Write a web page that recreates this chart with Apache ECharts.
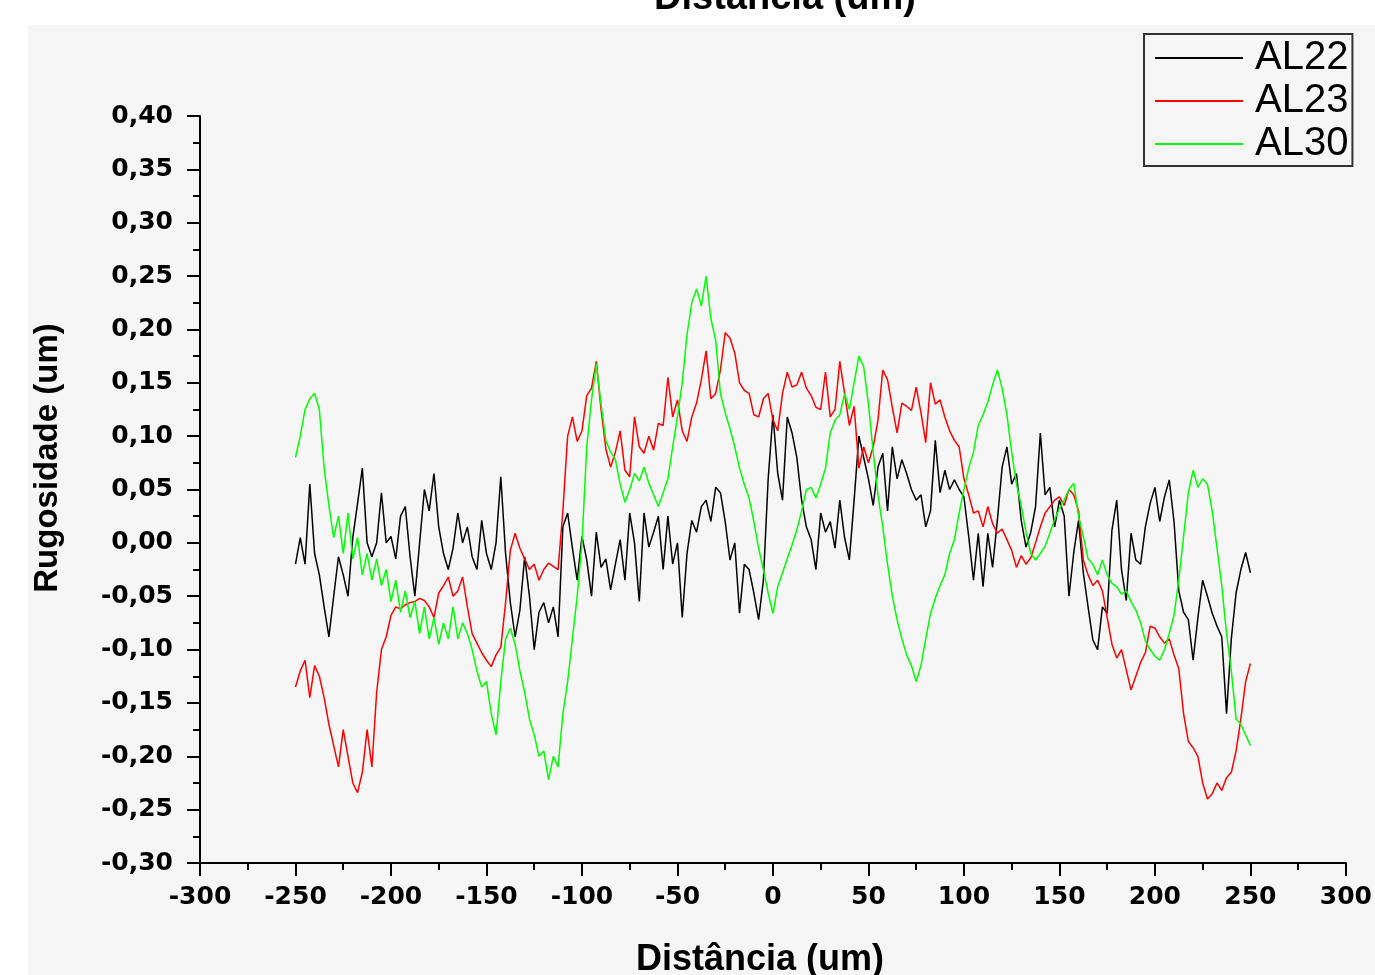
<!DOCTYPE html>
<html>
<head>
<meta charset="utf-8">
<script src="https://cdn.jsdelivr.net/npm/echarts@6/dist/echarts.min.js"></script>
<style>
html,body{margin:0;padding:0;background:#ffffff;}
#chart{width:1375px;height:975px;}
</style>
</head>
<body>
<div id="chart"></div>
<script>
// Sampling grid of the profile (um)
const xStart = -250;
const xStep = 2.5;

const seriesNames = ['AL22', 'AL23', 'AL30'];

const al22 = [
 -0.02, 0.005, -0.02, 0.055, -0.01, -0.03, -0.06, -0.088, -0.05, -0.013,
 -0.03, -0.05, 0.005, 0.037, 0.07, 0.0, -0.013, 0.0, 0.047, 0.0,
 0.006, -0.015, 0.025, 0.034, -0.013, -0.05, 0.0, 0.05, 0.03, 0.065,
 0.015, -0.01, -0.025, -0.005, 0.028, 0.0, 0.015, -0.013, -0.025, 0.021,
 -0.01, -0.025, 0.0, 0.062, -0.01, -0.056, -0.088, -0.063, -0.013, -0.05,
 -0.1, -0.065, -0.056, -0.075, -0.06, -0.088, 0.015, 0.028, -0.005, -0.035,
 0.006, -0.016, -0.05, 0.01, -0.023, -0.015, -0.044, -0.02, 0.003, -0.035,
 0.028, 0.0, -0.055, 0.028, -0.004, 0.01, 0.025, -0.025, 0.025, -0.02,
 0.0, -0.07, -0.01, 0.021, 0.01, 0.034, 0.04, 0.02, 0.052, 0.047,
 0.02, -0.016, 0.0, -0.066, -0.02, -0.025, -0.047, -0.072, -0.035, 0.06,
 0.12, 0.065, 0.04, 0.118, 0.103, 0.08, 0.04, 0.015, 0.003, -0.025,
 0.028, 0.01, 0.02, -0.005, 0.04, 0.005, -0.016, 0.04, 0.1, 0.08,
 0.06, 0.035, 0.071, 0.084, 0.03, 0.09, 0.06, 0.078, 0.065, 0.05,
 0.04, 0.045, 0.015, 0.03, 0.096, 0.047, 0.068, 0.05, 0.059, 0.05,
 0.043, 0.006, -0.035, 0.009, -0.041, 0.009, -0.023, 0.021, 0.071, 0.09,
 0.055, 0.065, 0.021, -0.004, 0.01, 0.034, 0.103, 0.045, 0.052, 0.015,
 0.04, 0.025, -0.05, -0.009, 0.021, -0.028, -0.06, -0.091, -0.1, -0.06,
 -0.066, 0.012, 0.04, -0.025, -0.054, 0.009, -0.016, -0.02, 0.015, 0.037,
 0.052, 0.02, 0.043, 0.059, 0.02, -0.045, -0.065, -0.072, -0.11, -0.07,
 -0.035, -0.05, -0.066, -0.078, -0.088, -0.16, -0.09, -0.047, -0.025, -0.009,
 -0.028
];

const al23 = [
 -0.135, -0.12, -0.11, -0.145, -0.115, -0.125, -0.145, -0.17, -0.19, -0.21,
 -0.175, -0.2, -0.225, -0.234, -0.215, -0.175, -0.21, -0.14, -0.1, -0.088,
 -0.068, -0.06, -0.062, -0.058, -0.056, -0.055, -0.052, -0.054, -0.06, -0.07,
 -0.047, -0.04, -0.032, -0.05, -0.045, -0.032, -0.06, -0.085, -0.094, -0.103,
 -0.11, -0.116, -0.105, -0.098, -0.056, -0.007, 0.009, -0.005, -0.015, -0.025,
 -0.02, -0.035, -0.025, -0.019, -0.022, -0.025, 0.03, 0.1, 0.118, 0.095,
 0.105, 0.138, 0.145, 0.17, 0.125, 0.088, 0.071, 0.085, 0.105, 0.068,
 0.062, 0.118, 0.09, 0.084, 0.1, 0.087, 0.112, 0.11, 0.155, 0.118,
 0.134, 0.105, 0.095, 0.118, 0.131, 0.153, 0.18, 0.135, 0.14, 0.162,
 0.197, 0.192, 0.178, 0.15, 0.143, 0.14, 0.12, 0.118, 0.135, 0.14,
 0.115, 0.105, 0.14, 0.16, 0.146, 0.148, 0.16, 0.145, 0.138, 0.127,
 0.125, 0.16, 0.118, 0.125, 0.17, 0.14, 0.11, 0.128, 0.07, 0.09,
 0.075, 0.09, 0.115, 0.162, 0.153, 0.127, 0.103, 0.131, 0.128, 0.124,
 0.146, 0.122, 0.094, 0.15, 0.13, 0.134, 0.118, 0.105, 0.096, 0.09,
 0.06, 0.045, 0.028, 0.03, 0.015, 0.034, 0.018, 0.009, 0.013, 0.003,
 -0.007, -0.023, -0.012, -0.02, -0.014, 0.0, 0.015, 0.028, 0.034, 0.04,
 0.043, 0.035, 0.05, 0.045, 0.03, -0.016, -0.03, -0.04, -0.035, -0.045,
 -0.07, -0.095, -0.108, -0.1, -0.119, -0.138, -0.125, -0.112, -0.103, -0.078,
 -0.08, -0.088, -0.094, -0.09, -0.105, -0.118, -0.16, -0.186, -0.192, -0.2,
 -0.225, -0.24, -0.235, -0.225, -0.232, -0.22, -0.215, -0.195, -0.165, -0.13,
 -0.113
];

const al30 = [
 0.08, 0.1, 0.125, 0.135, 0.14, 0.125, 0.07, 0.035, 0.005, 0.025,
 -0.01, 0.028, -0.015, 0.005, -0.03, -0.01, -0.035, -0.015, -0.04, -0.025,
 -0.055, -0.035, -0.065, -0.045, -0.07, -0.055, -0.085, -0.06, -0.09, -0.07,
 -0.095, -0.075, -0.09, -0.06, -0.09, -0.075, -0.085, -0.1, -0.12, -0.135,
 -0.13, -0.16, -0.18, -0.13, -0.09, -0.08, -0.095, -0.12, -0.14, -0.165,
 -0.18, -0.2, -0.195, -0.222, -0.2, -0.21, -0.16, -0.13, -0.09, -0.05,
 0.0, 0.09, 0.134, 0.168, 0.13, 0.096, 0.085, 0.078, 0.055, 0.038,
 0.05, 0.065, 0.058, 0.071, 0.056, 0.045, 0.034, 0.047, 0.06, 0.09,
 0.118, 0.15, 0.195, 0.225, 0.238, 0.222, 0.25, 0.21, 0.19, 0.14,
 0.122, 0.107, 0.09, 0.07, 0.055, 0.042, 0.02, -0.005, -0.025, -0.047,
 -0.066, -0.041, -0.028, -0.015, -0.002, 0.012, 0.03, 0.05, 0.052, 0.042,
 0.055, 0.07, 0.103, 0.115, 0.12, 0.14, 0.125, 0.15, 0.175, 0.165,
 0.13, 0.085, 0.045, 0.015, -0.02, -0.05, -0.072, -0.09, -0.105, -0.115,
 -0.13, -0.115, -0.09, -0.066, -0.052, -0.04, -0.03, -0.01, 0.003, 0.028,
 0.05, 0.07, 0.085, 0.11, 0.12, 0.132, 0.148, 0.162, 0.145, 0.12,
 0.085, 0.055, 0.035, 0.01, -0.01, -0.016, -0.01, -0.003, 0.009, 0.022,
 0.032, 0.04, 0.05, 0.056, 0.025, 0.006, -0.015, -0.02, -0.03, -0.016,
 -0.03, -0.038, -0.041, -0.048, -0.045, -0.055, -0.063, -0.075, -0.092, -0.1,
 -0.106, -0.11, -0.1, -0.085, -0.068, -0.035, 0.006, 0.047, 0.068, 0.052,
 0.06, 0.055, 0.03, -0.005, -0.04, -0.085, -0.12, -0.165, -0.17, -0.18,
 -0.19
];

const xAxisTitle = 'Distância (um)';
const yAxisTitle = 'Rugosidade (um)';
const colors = ['#000000', '#ff0000', '#00ff00'];

function toPairs(vals) {
  return vals.map((v, i) => [xStart + i * xStep, v]);
}

const chart = echarts.init(document.getElementById('chart'), null, {renderer: 'canvas'});

const tickFont = {fontFamily: 'DejaVu Sans', fontWeight: 'bold', fontSize: 25, color: '#000'};

chart.setOption({
  animation: false,
  backgroundColor: '#ffffff',
  graphic: [
    {type: 'rect', z: -10, silent: true, shape: {x: 28, y: 25, width: 1347, height: 950}, style: {fill: '#f6f6f6'}},
    {type: 'text', z: 5, x: 785, y: -1, style: {text: xAxisTitle, x: 0, y: 0, textAlign: 'center', textVerticalAlign: 'middle', font: 'bold 38px "Liberation Sans"', fill: '#000'}},
    {type: 'text', z: 5, x: 760, y: 960, style: {text: xAxisTitle, x: 0, y: 0, textAlign: 'center', textVerticalAlign: 'middle', font: 'bold 36px "Liberation Sans"', fill: '#000'}},
    {type: 'text', z: 5, x: 48, y: 458, rotation: Math.PI / 2, style: {text: yAxisTitle, x: 0, y: 0, textAlign: 'center', textVerticalAlign: 'middle', font: 'bold 33px "Liberation Sans"', fill: '#000'}}
  ],
  legend: {
    orient: 'vertical',
    left: 1144,
    top: 34,
    padding: [4, 4, 2, 11],
    icon: 'rect',
    itemWidth: 88,
    itemHeight: 2,
    itemGap: 3,
    borderColor: '#333',
    borderWidth: 2,
    backgroundColor: '#f6f6f6',
    textStyle: {fontFamily: 'Liberation Sans', fontSize: 40, lineHeight: 40, color: '#000', padding: [0, 0, 0, 7]},
    data: seriesNames
  },
  grid: {left: 200, right: 26, top: 116, bottom: 112, containLabel: false},
  xAxis: {
    type: 'value',
    min: -300, max: 300, interval: 50,
    axisLine: {show: true, onZero: false, lineStyle: {color: '#000', width: 2}},
    axisTick: {show: true, inside: false, length: 13, lineStyle: {color: '#000', width: 2}},
    minorTick: {show: true, splitNumber: 2, length: 7, lineStyle: {color: '#000', width: 2}},
    splitLine: {show: false},
    axisLabel: Object.assign({margin: 22}, tickFont)
  },
  yAxis: {
    type: 'value',
    min: -0.3, max: 0.4, interval: 0.05,
    axisLine: {show: true, onZero: false, lineStyle: {color: '#000', width: 2}},
    axisTick: {show: true, inside: false, length: 13, lineStyle: {color: '#000', width: 2}},
    minorTick: {show: true, splitNumber: 2, length: 7, lineStyle: {color: '#000', width: 2}},
    splitLine: {show: false},
    axisLabel: Object.assign({margin: 27, formatter: v => v.toFixed(2).replace('.', ',')}, tickFont)
  },
  series: [al22, al23, al30].map((vals, k) => ({
    name: seriesNames[k],
    type: 'line',
    symbol: 'none',
    showSymbol: false,
    data: toPairs(vals),
    lineStyle: {color: colors[k], width: 1.5},
    itemStyle: {color: colors[k]},
    z: 2 + k
  }))
});
</script>
</body>
</html>
